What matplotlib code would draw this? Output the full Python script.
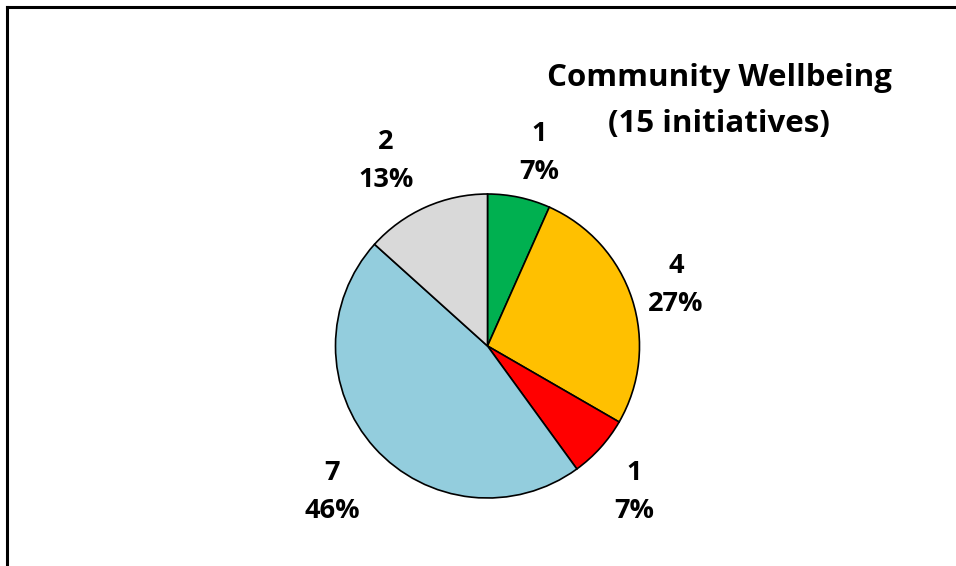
import numpy as np
import matplotlib
matplotlib.use("Agg")
import matplotlib.pyplot as plt
from matplotlib.lines import Line2D

categories = ["Green", "Amber", "Red", "Blue", "Grey"]
values = [1, 4, 1, 7, 2]
pct_labels = ["7%", "27%", "7%", "46%", "13%"]
colors = ["#00B050", "#FFC000", "#FF0000", "#93CDDD", "#D9D9D9"]
title = "Community Wellbeing\n(15 initiatives)"

plt.rcParams['font.family'] = ['Open Sans', 'DejaVu Sans']

fig = plt.figure(figsize=(9.56, 5.66), dpi=100)
W, H = 956, 566

# border (top and left)
fig.add_artist(Line2D([7 / W, 1], [1 - 7 / H, 1 - 7 / H], color="black", lw=2.2, transform=fig.transFigure))
fig.add_artist(Line2D([7 / W, 7 / W], [0, 1 - 7 / H], color="black", lw=2.2, transform=fig.transFigure))

cx, cy, r = 487.5, 346, 152
ax = fig.add_axes([(cx - r) / W, (H - cy - r) / H, 2 * r / W, 2 * r / H])
wedges, _ = ax.pie(values, colors=colors, startangle=90, counterclock=False,
                   wedgeprops=dict(edgecolor="black", linewidth=1.2))
ax.set_xlim(-1, 1)
ax.set_ylim(-1, 1)
ax.set_aspect("auto")
ax.axis("off")

dists = [1.315, 1.303, 1.361, 1.403, 1.388]
ang_off = [-2.9, -0.1, -2.9, 1.2, 4.75]
for w, v, p, d, o in zip(wedges, values, pct_labels, dists, ang_off):
    ang = np.deg2rad((w.theta1 + w.theta2) / 2 + o)
    ax.text(d * np.cos(ang), d * np.sin(ang), f"{v}\n{p}", ha="center", va="center",
            fontsize=19.5, fontweight="bold", linespacing=1.62, clip_on=False)

fig.text(719 / W, 1 - 101 / H, title, ha="center", va="center", fontsize=22.5,
         fontweight="bold", linespacing=1.68)

fig.savefig("out.png", dpi=100, facecolor="white")
